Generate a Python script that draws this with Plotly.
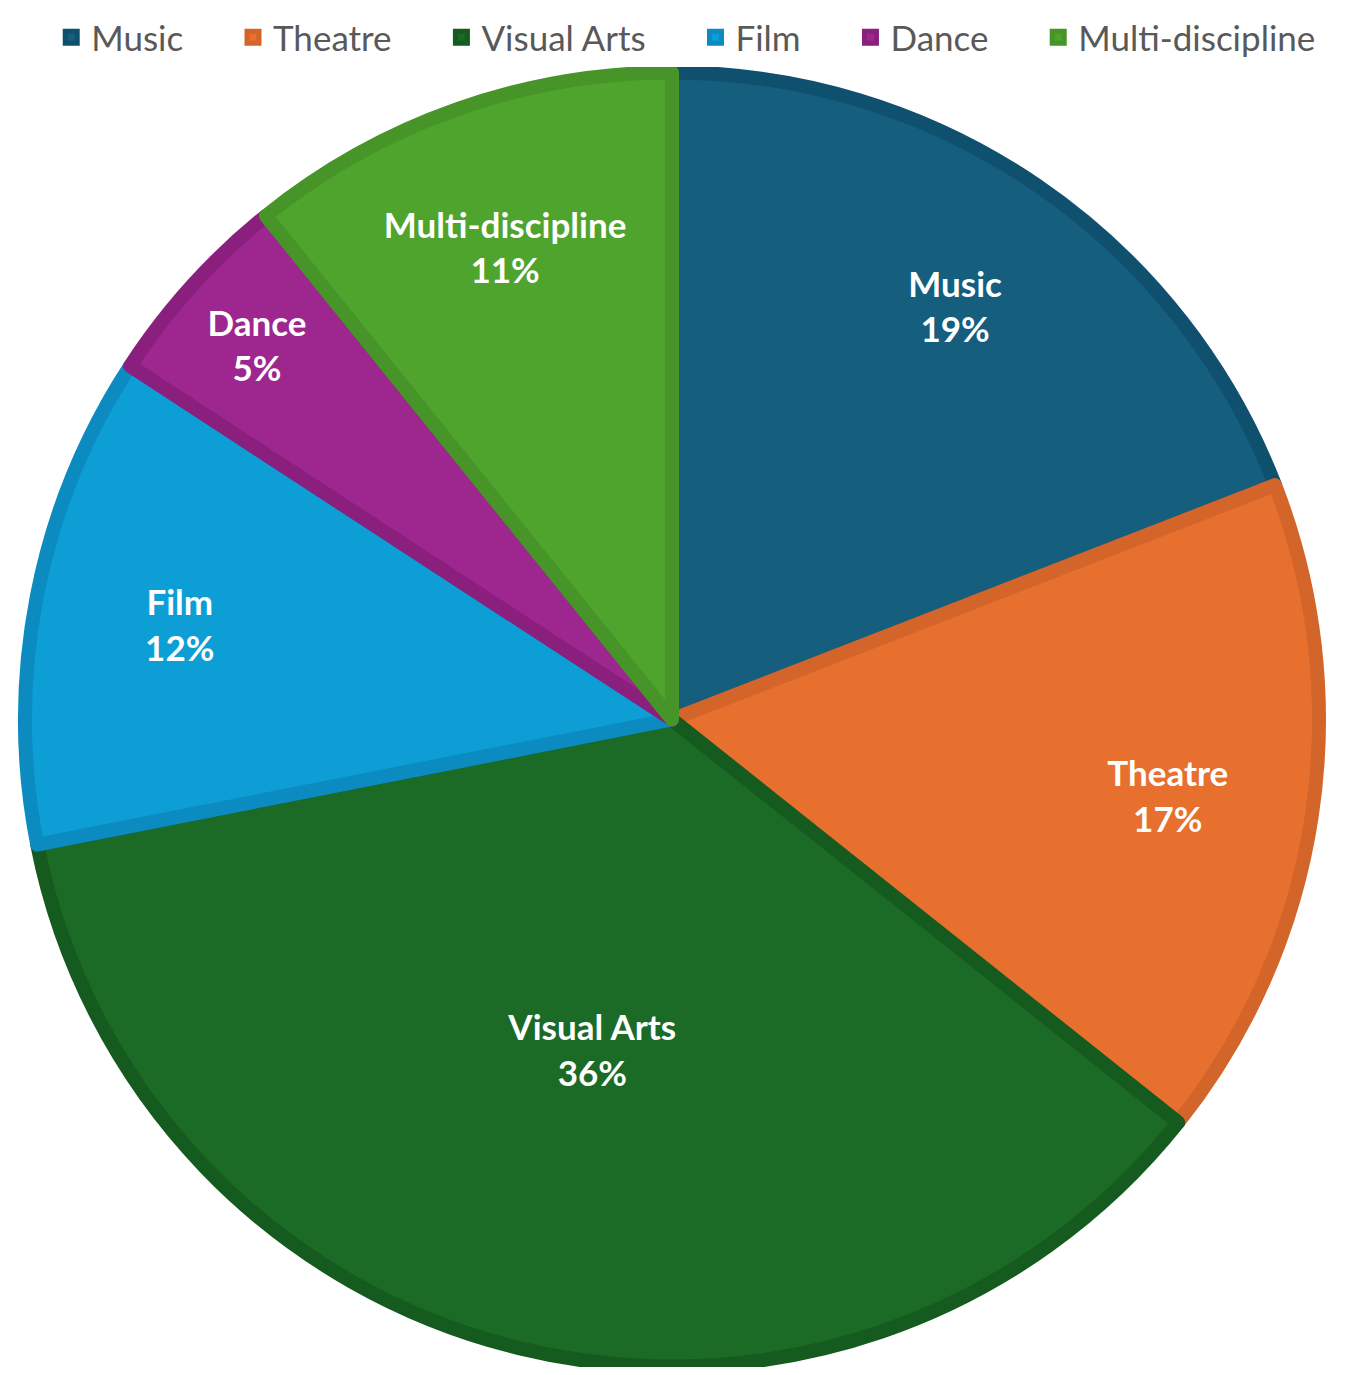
import plotly.graph_objects as go

# Datos del gráfico
categorias = ["Music", "Theatre", "Visual Arts", "Film", "Dance", "Multi-discipline"]
valores = [19.1, 16.6, 36.2, 12.3, 5.0, 10.8]
colores = ["#165E7E", "#E7702F", "#1B6A26", "#0E9ED6", "#9E278F", "#4EA42D"]
bordes = ["#10506F", "#D3652A", "#155A1E", "#0B8BC0", "#8A1F7D", "#479529"]

# Separación entre entradas de la leyenda
nombres_leyenda = [c + "\u00a0" * 5 for c in categorias[:-1]] + [categorias[-1]]

# Sólo la etiqueta grande va en la tarta; las demás en un anillo transparente
texto_tarta = ["" if c != "Visual Arts" else "<b>%s</b>" % c for c in categorias]
texto_anillo = ["" if c == "Visual Arts" else "<b>%s</b>" % c for c in categorias]

fuente = "Lato"

fig = go.Figure()

# Tarta principal
fig.add_trace(go.Pie(
    labels=nombres_leyenda,
    values=valores,
    text=texto_tarta,
    sort=False,
    direction="clockwise",
    rotation=0,
    marker=dict(colors=colores, line=dict(color=bordes, width=14)),
    texttemplate=["%{text}<br><b>%{percent:.0%}</b>" if t else "" for t in texto_tarta],
    textposition="inside",
    insidetextorientation="horizontal",
    insidetextfont=dict(color="white", size=35, family=fuente),
    hoverinfo="label+percent",
))

# Anillo transparente para colocar las etiquetas más hacia fuera
fig.add_trace(go.Pie(
    labels=nombres_leyenda,
    values=valores,
    text=texto_anillo,
    hole=0.55,
    sort=False,
    direction="clockwise",
    rotation=0,
    showlegend=False,
    marker=dict(colors=["rgba(0,0,0,0)"] * len(categorias), line=dict(width=0)),
    texttemplate=["%{text}<br><b>%{percent:.0%}</b>" if t else "" for t in texto_anillo],
    textposition="inside",
    insidetextorientation="horizontal",
    insidetextfont=dict(color="white", size=35, family=fuente),
    hoverinfo="skip",
))

fig.update_layout(
    width=1352,
    height=1359,
    margin=dict(l=17, r=41, t=64, b=0),
    paper_bgcolor="white",
    plot_bgcolor="white",
    font=dict(family=fuente, color="#595959"),
    legend=dict(
        orientation="h",
        x=0.511,
        xanchor="center",
        y=1.004,
        yanchor="bottom",
        font=dict(size=35, color="#595959"),
    ),
)

fig.write_html("out.html")
